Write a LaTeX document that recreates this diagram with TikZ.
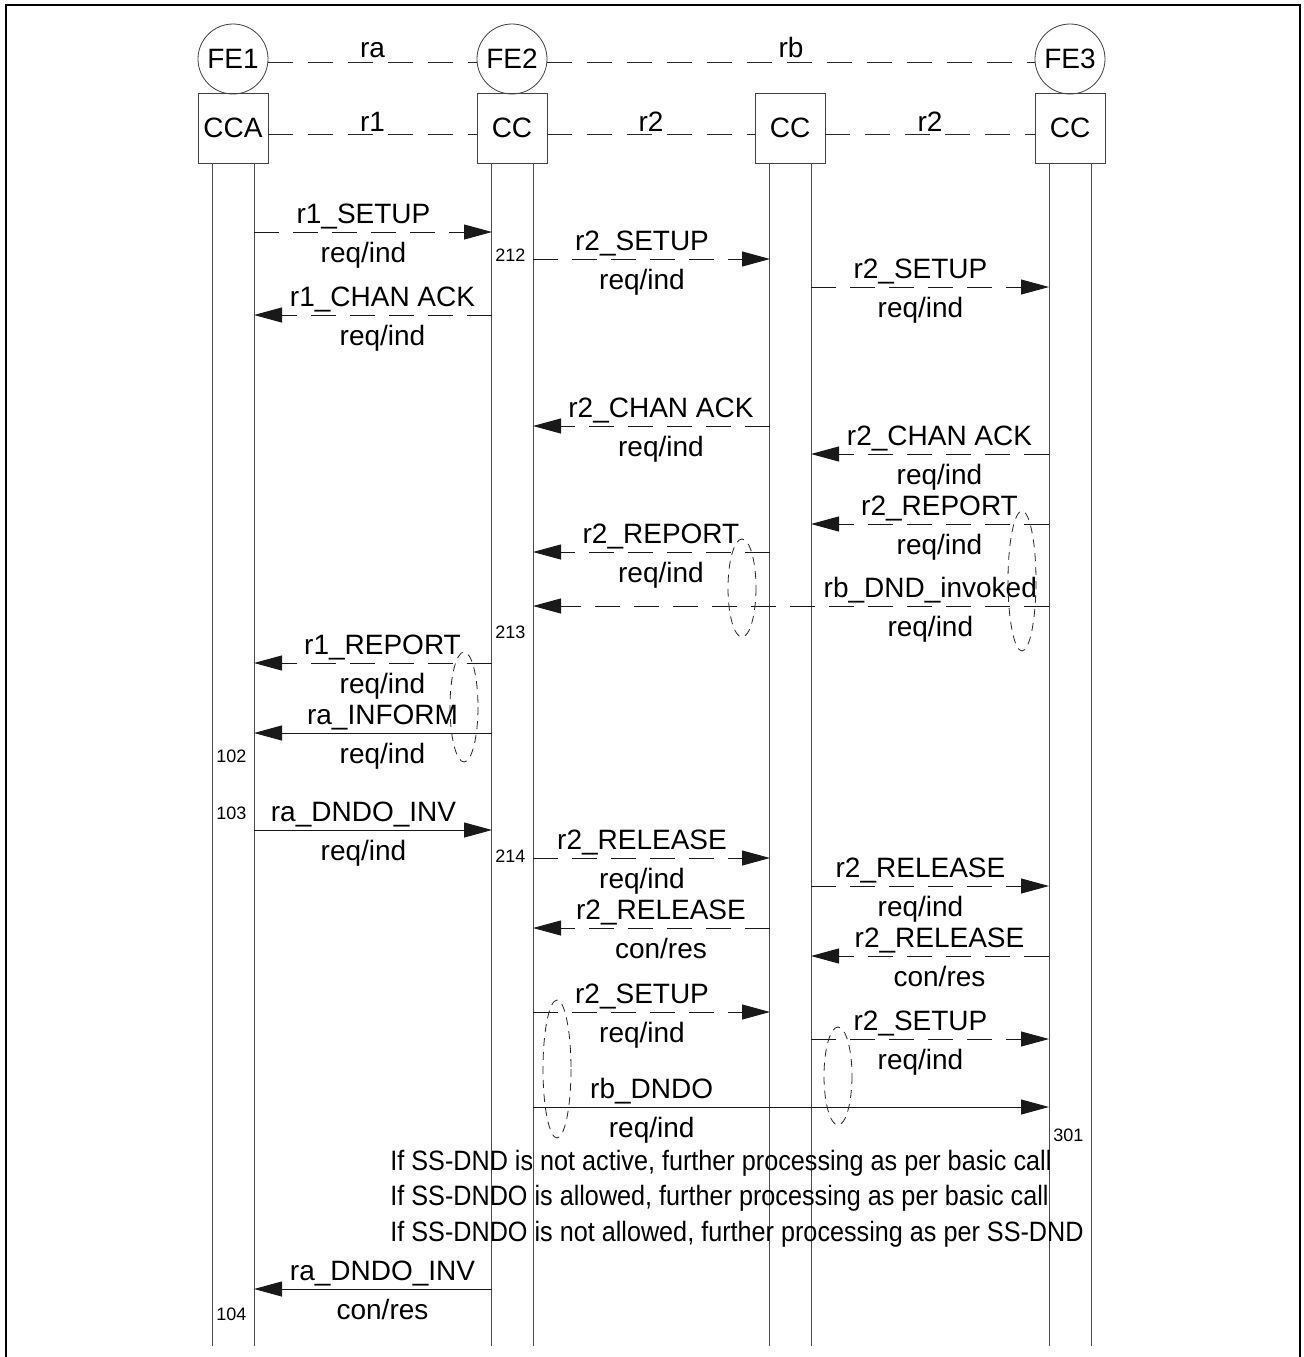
\documentclass[tikz,border=0pt]{standalone}
\usepackage{fontspec}
\setmainfont{Liberation Sans}
\newfontfamily\notefont[FakeStretch=0.90]{Liberation Sans}
\usetikzlibrary{arrows.meta}

\begin{document}
\begin{tikzpicture}[x=0.5pt, y=-0.5pt, >={Triangle[length=14pt,width=7.5pt]},
  font=\fontsize{14}{16}\selectfont,
  fe/.style={circle, draw=black!75, minimum size=35pt, inner sep=0pt},
  fb/.style={rectangle, draw=black!75, minimum size=35pt, inner sep=0pt},
  link/.style={draw=black!85, dash pattern=on 12.5pt off 7.5pt},
  life/.style={draw=black!70, line width=0.5pt},
  smsg/.style={draw=black!90, ->, line width=0.5pt},
  dmsg/.style={smsg, dash pattern=on 12.5pt off 7pt},
  top/.style={pos=0.46, above=0pt, inner sep=1pt},
  bot/.style={pos=0.46, below=4pt, inner sep=1pt},
  num/.style={right, inner sep=1pt, font=\fontsize{9}{10}\selectfont},
  grp/.style={draw=black!85, line width=0.4pt, dash pattern=on 4pt off 3pt}]
\path[use as bounding box] (0,0) rectangle (1304,1357);
\draw[line width=1.35pt] (6,1357) -- (6,5) -- (1300,5) -- (1300,1357);

% functional entities
\node[fe] (FE1) at (233,59) {FE1};
\node[fe] (FE2) at (512,59) {FE2};
\node[fe] (FE3) at (1070,59) {FE3};
\node[fb] (CCA) at (233,128) {CCA};
\node[fb] (CC2) at (512,128) {CC};
\node[fb] (CCM) at (790,128) {CC};
\node[fb] (CC3) at (1070,128) {CC};

\path[link] ([yshift=-1.5pt]FE1.east) -- node[above=1pt, inner sep=1pt] {ra} ([yshift=-1.5pt]FE2.west);
\path[link] ([yshift=-1.5pt]FE2.east) -- node[above=1pt, inner sep=1pt] {rb} ([yshift=-1.5pt]FE3.west);
\path[link] ([yshift=-3pt]CCA.east) -- node[above=0pt, inner sep=1pt] {r1} ([yshift=-3pt]CC2.west);
\path[link] ([yshift=-3pt]CC2.east) -- node[above=0pt, inner sep=1pt] {r2} ([yshift=-3pt]CCM.west);
\path[link] ([yshift=-3pt]CCM.east) -- node[above=0pt, inner sep=1pt] {r2} ([yshift=-3pt]CC3.west);

% life lines
\coordinate (end) at (0,1346);
\draw[life] ([xshift=-10.5pt]CCA.south) -- ([xshift=-10.5pt]CCA.south |- end);
\draw[life] ([xshift=10.5pt]CCA.south) -- ([xshift=10.5pt]CCA.south |- end);
\draw[life] ([xshift=-10.5pt]CC2.south) -- ([xshift=-10.5pt]CC2.south |- end);
\draw[life] ([xshift=10.5pt]CC2.south) -- ([xshift=10.5pt]CC2.south |- end);
\draw[life] ([xshift=-10.5pt]CCM.south) -- ([xshift=-10.5pt]CCM.south |- end);
\draw[life] ([xshift=10.5pt]CCM.south) -- ([xshift=10.5pt]CCM.south |- end);
\draw[life] ([xshift=-10.5pt]CC3.south) -- ([xshift=-10.5pt]CC3.south |- end);
\draw[life] ([xshift=10.5pt]CC3.south) -- ([xshift=10.5pt]CC3.south |- end);

% messages
\coordinate (s1) at (254,232); \coordinate (e1) at (492,232);
\path (s1) edge[dmsg] node[top] {r1\_SETUP} node[bot] {req/ind} (e1);
\coordinate (s2) at (533,259); \coordinate (e2) at (770,259);
\path (s2) edge[dmsg] node[top] {r2\_SETUP} node[bot] {req/ind} (e2);
\coordinate (s3) at (811,287); \coordinate (e3) at (1049,287);
\path (s3) edge[dmsg] node[top] {r2\_SETUP} node[bot] {req/ind} (e3);
\coordinate (s4) at (492,315); \coordinate (e4) at (254,315);
\path (s4) edge[dmsg] node[top] {r1\_CHAN ACK} node[bot] {req/ind} (e4);
\coordinate (s5) at (770,426); \coordinate (e5) at (533,426);
\path (s5) edge[dmsg] node[top] {r2\_CHAN ACK} node[bot] {req/ind} (e5);
\coordinate (s6) at (1049,454); \coordinate (e6) at (811,454);
\path (s6) edge[dmsg] node[top] {r2\_CHAN ACK} node[bot] {req/ind} (e6);
\coordinate (s7) at (1049,524); \coordinate (e7) at (811,524);
\path (s7) edge[dmsg] node[top] {r2\_REPORT} node[bot] {req/ind} (e7);
\coordinate (s8) at (770,552); \coordinate (e8) at (533,552);
\path (s8) edge[dmsg] node[top] {r2\_REPORT} node[bot] {req/ind} (e8);
\coordinate (s9) at (1049,606); \coordinate (e9) at (533,606);
\path (s9) edge[dmsg] node[top, pos=0.23] {rb\_DND\_invoked} node[bot, pos=0.23] {req/ind} (e9);
\coordinate (s10) at (492,663); \coordinate (e10) at (254,663);
\path (s10) edge[dmsg] node[top] {r1\_REPORT} node[bot] {req/ind} (e10);
\coordinate (s11) at (492,733); \coordinate (e11) at (254,733);
\path (s11) edge[smsg] node[top] {ra\_INFORM} node[bot] {req/ind} (e11);
\coordinate (s12) at (254,830); \coordinate (e12) at (492,830);
\path (s12) edge[smsg] node[top] {ra\_DNDO\_INV} node[bot] {req/ind} (e12);
\coordinate (s13) at (533,858); \coordinate (e13) at (770,858);
\path (s13) edge[dmsg] node[top] {r2\_RELEASE} node[bot] {req/ind} (e13);
\coordinate (s14) at (811,886); \coordinate (e14) at (1049,886);
\path (s14) edge[dmsg] node[top] {r2\_RELEASE} node[bot] {req/ind} (e14);
\coordinate (s15) at (770,928); \coordinate (e15) at (533,928);
\path (s15) edge[dmsg] node[top] {r2\_RELEASE} node[bot] {con/res} (e15);
\coordinate (s16) at (1049,956); \coordinate (e16) at (811,956);
\path (s16) edge[dmsg] node[top] {r2\_RELEASE} node[bot] {con/res} (e16);
\coordinate (s17) at (533,1012); \coordinate (e17) at (770,1012);
\path (s17) edge[dmsg] node[top] {r2\_SETUP} node[bot] {req/ind} (e17);
\coordinate (s18) at (811,1039); \coordinate (e18) at (1049,1039);
\path (s18) edge[dmsg] node[top] {r2\_SETUP} node[bot] {req/ind} (e18);
\coordinate (s19) at (533,1107); \coordinate (e19) at (1049,1107);
\path (s19) edge[smsg] node[top, pos=0.23] {rb\_DNDO} node[bot, pos=0.23] {req/ind} (e19);
\coordinate (s20) at (492,1289); \coordinate (e20) at (254,1289);
\path (s20) edge[smsg] node[top] {ra\_DNDO\_INV} node[bot] {con/res} (e20);

% reference numbers
\node[num] (n212) at (493,255) {212};
\node[num] (n213) at (493,632) {213};
\node[num] (n214) at (493,856) {214};
\node[num] (n102) at (214,756) {102};
\node[num] (n103) at (214,813) {103};
\node[num] (n104) at (214,1314) {104};
\node[num] (n301) at (1051,1135) {301};

% notes
\node[right, inner sep=0pt] (t1) at (390,1163) {\notefont If SS-DND is not active, further processing as per basic call};
\node[right, inner sep=0pt] (t2) at (390,1198) {\notefont If SS-DNDO is allowed, further processing as per basic call};
\node[right, inner sep=0pt] (t3) at (390,1234) {\notefont If SS-DNDO is not allowed, further processing as per SS-DND};

% grouping
\draw[grp] (742,588) ellipse [x radius=14, y radius=49];
\draw[grp] (1022,581) ellipse [x radius=14, y radius=70];
\draw[grp] (464,707) ellipse [x radius=14, y radius=55];
\draw[grp] (557,1069) ellipse [x radius=14, y radius=69];
\draw[grp] (838,1076) ellipse [x radius=14, y radius=49];
\end{tikzpicture}
\end{document}
